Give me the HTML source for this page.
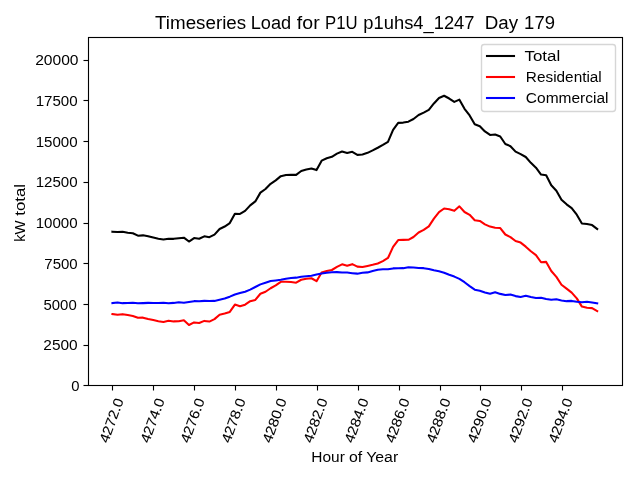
<!DOCTYPE html>
<html><head><meta charset="utf-8"><title>Timeseries Load for P1U p1uhs4_1247 Day 179</title>
<style>html,body{margin:0;padding:0;background:#fff;width:640px;height:480px;overflow:hidden}svg{display:block;will-change:transform;font-family:"Liberation Sans",sans-serif;fill:#000}.t{font-size:13.889px}.h{font-size:18.000px}.ln{fill:none;stroke-width:2.083;stroke-linejoin:round;stroke-linecap:square}.ax{stroke:#000;stroke-width:1.11;fill:none}</style></head><body>
<svg width="640" height="480" viewBox="0 0 640 480">
<rect x="0" y="0" width="640" height="480" fill="#fff"/>
<defs><clipPath id="c"><rect x="88.15" y="37.33" width="534.10" height="348.14"/></clipPath></defs>
<g clip-path="url(#c)">
<polyline class="ln" stroke="#000" points="112.43,231.67 117.53,231.92 122.63,231.84 127.74,232.67 132.84,233.26 137.94,235.67 143.04,235.34 148.15,236.34 153.25,237.51 158.35,238.76 163.46,239.42 168.56,238.67 173.66,238.84 178.76,238.17 183.87,237.67 188.97,241.51 194.07,238.09 199.18,238.76 204.28,236.34 209.38,237.17 214.48,234.59 219.59,229.01 224.69,226.51 229.79,223.09 234.90,213.67 240.00,213.92 245.10,210.84 250.20,205.37 255.31,201.41 260.41,192.62 265.51,189.01 270.61,183.76 275.72,180.34 280.82,176.17 285.92,175.01 291.03,174.67 296.13,174.84 301.23,171.01 306.33,169.51 311.44,168.51 316.54,170.09 321.64,160.67 326.75,158.26 331.85,156.76 336.95,153.59 342.05,151.42 347.16,152.92 352.26,151.84 357.36,154.84 362.47,154.42 367.57,152.84 372.67,150.42 377.77,147.76 382.88,144.89 387.98,141.82 393.08,129.84 398.19,122.86 403.29,122.59 408.39,121.67 413.49,119.01 418.60,115.01 423.70,112.59 428.80,109.84 433.91,103.42 439.01,97.92 444.11,95.76 449.21,98.51 454.32,101.92 459.42,99.67 464.52,108.76 469.63,115.42 474.73,124.34 479.83,126.26 484.93,131.42 490.04,134.92 495.14,134.52 500.24,136.46 505.34,144.01 510.45,146.17 515.55,151.64 520.65,154.11 525.76,157.02 530.86,162.86 535.96,167.71 541.06,174.51 546.17,175.34 551.27,185.26 556.37,190.67 561.48,199.76 566.58,204.34 571.68,208.09 576.78,214.67 581.89,223.42 586.99,224.01 592.09,225.09 597.20,228.92"/>
<polyline class="ln" stroke="#f00" points="112.43,314.08 117.53,314.83 122.63,314.16 127.74,315.08 132.84,315.99 137.94,317.83 143.04,317.66 148.15,318.91 153.25,319.99 158.35,321.24 163.46,322.08 168.56,320.83 173.66,321.41 178.76,321.33 183.87,320.33 188.97,324.99 194.07,322.41 199.18,322.99 204.28,320.91 209.38,321.58 214.48,319.16 219.59,314.74 224.69,313.49 229.79,311.91 234.90,304.58 240.00,306.33 245.10,304.66 250.20,301.23 255.31,299.89 260.41,293.73 265.51,291.74 270.61,288.24 275.72,285.41 280.82,281.83 285.92,281.74 291.03,282.08 296.13,282.66 301.23,279.74 306.33,278.74 311.44,278.24 316.54,281.16 321.64,272.58 326.75,270.99 331.85,269.99 336.95,266.91 342.05,264.33 347.16,265.83 352.26,264.16 357.36,266.66 362.47,267.08 367.57,265.91 372.67,264.83 377.77,263.49 382.88,261.11 387.98,257.98 393.08,246.91 398.19,240.04 403.29,239.91 408.39,239.83 413.49,236.99 418.60,232.49 423.70,229.91 428.80,226.41 433.91,218.58 439.01,212.08 444.11,208.49 449.21,209.24 454.32,210.83 459.42,206.33 464.52,211.99 469.63,214.83 474.73,220.16 479.83,220.99 484.93,224.33 490.04,226.58 495.14,227.68 500.24,228.04 505.34,234.49 510.45,237.08 515.55,241.01 520.65,242.59 525.76,246.68 530.86,251.29 535.96,255.14 541.06,262.24 546.17,261.91 551.27,270.99 556.37,276.83 561.48,284.74 566.58,288.66 571.68,292.66 576.78,298.33 581.89,306.58 586.99,307.74 592.09,308.16 597.20,311.08"/>
<polyline class="ln" stroke="#00f" points="112.43,303.08 117.53,302.58 122.63,303.16 127.74,303.08 132.84,302.74 137.94,303.33 143.04,303.16 148.15,302.91 153.25,302.99 158.35,302.99 163.46,302.83 168.56,303.33 173.66,302.91 178.76,302.33 183.87,302.83 188.97,301.99 194.07,301.16 199.18,301.24 204.28,300.91 209.38,301.08 214.48,300.91 219.59,299.74 224.69,298.49 229.79,296.66 234.90,294.58 240.00,293.08 245.10,291.66 250.20,289.63 255.31,286.99 260.41,284.38 265.51,282.74 270.61,280.99 275.72,280.41 280.82,279.83 285.92,278.74 291.03,278.08 296.13,277.66 301.23,276.74 306.33,276.24 311.44,275.74 316.54,274.41 321.64,273.58 326.75,272.74 331.85,272.24 336.95,272.16 342.05,272.58 347.16,272.58 352.26,273.16 357.36,273.66 362.47,272.83 367.57,272.41 372.67,271.08 377.77,269.74 382.88,269.26 387.98,269.33 393.08,268.41 398.19,268.29 403.29,268.16 408.39,267.33 413.49,267.49 418.60,267.99 423.70,268.16 428.80,268.91 433.91,270.33 439.01,271.33 444.11,272.74 449.21,274.74 454.32,276.58 459.42,278.83 464.52,282.24 469.63,286.08 474.73,289.66 479.83,290.74 484.93,292.58 490.04,293.83 495.14,292.33 500.24,293.89 505.34,294.99 510.45,294.58 515.55,296.11 520.65,296.99 525.76,295.83 530.86,297.04 535.96,298.04 541.06,297.74 546.17,298.91 551.27,299.74 556.37,299.33 561.48,300.49 566.58,301.16 571.68,300.91 576.78,301.83 581.89,302.33 586.99,301.74 592.09,302.41 597.20,303.33"/>
</g>
<g fill="#000">
<rect x="111.945" y="385.5" width="1.11" height="5"/>
<rect x="152.945" y="385.5" width="1.11" height="5"/>
<rect x="193.945" y="385.5" width="1.11" height="5"/>
<rect x="234.945" y="385.5" width="1.11" height="5"/>
<rect x="275.945" y="385.5" width="1.11" height="5"/>
<rect x="316.945" y="385.5" width="1.11" height="5"/>
<rect x="357.945" y="385.5" width="1.11" height="5"/>
<rect x="398.945" y="385.5" width="1.11" height="5"/>
<rect x="439.945" y="385.5" width="1.11" height="5"/>
<rect x="479.945" y="385.5" width="1.11" height="5"/>
<rect x="520.945" y="385.5" width="1.11" height="5"/>
<rect x="561.945" y="385.5" width="1.11" height="5"/>
<rect x="83.5" y="384.945" width="5" height="1.11"/>
<rect x="83.5" y="344.945" width="5" height="1.11"/>
<rect x="83.5" y="303.945" width="5" height="1.11"/>
<rect x="83.5" y="262.945" width="5" height="1.11"/>
<rect x="83.5" y="222.945" width="5" height="1.11"/>
<rect x="83.5" y="181.945" width="5" height="1.11"/>
<rect x="83.5" y="140.945" width="5" height="1.11"/>
<rect x="83.5" y="99.945" width="5" height="1.11"/>
<rect x="83.5" y="59.945" width="5" height="1.11"/>
</g>
<rect class="ax" x="88.5" y="37.5" width="534" height="348"/>
<rect x="481.50" y="44.50" width="134.00" height="67.00" rx="2.78" ry="2.78" fill="#fff" fill-opacity="0.8" stroke="#ccc" stroke-opacity="0.8" stroke-width="1.39"/>
<path d="M487.00 56.00H514.00" stroke="#000" stroke-width="2.083" stroke-linecap="square" fill="none"/>
<path d="M487.00 77.00H514.00" stroke="#f00" stroke-width="2.083" stroke-linecap="square" fill="none"/>
<path d="M487.00 98.00H514.00" stroke="#00f" stroke-width="2.083" stroke-linecap="square" fill="none"/>
<g>
<text class="h" x="155.11" y="29.00" textLength="91.00" lengthAdjust="spacingAndGlyphs">Timeseries</text>
<text class="h" x="250.66" y="29.00" textLength="40.47" lengthAdjust="spacingAndGlyphs">Load</text>
<text class="h" x="296.85" y="29.00" textLength="22.85" lengthAdjust="spacingAndGlyphs">for</text>
<text class="h" x="325.04" y="29.00" textLength="32.57" lengthAdjust="spacingAndGlyphs">P1U</text>
<text class="h" x="363.39" y="29.00" textLength="111.10" lengthAdjust="spacingAndGlyphs">p1uhs4_1247</text>
<text class="h" x="484.71" y="29.00" textLength="33.32" lengthAdjust="spacingAndGlyphs">Day</text>
<text class="h" x="524.12" y="29.00" textLength="30.84" lengthAdjust="spacingAndGlyphs">179</text>
</g>
<g>
<text class="t" x="311.33" y="462.00" textLength="33.48" lengthAdjust="spacingAndGlyphs">Hour</text>
<text class="t" x="348.97" y="462.00" textLength="13.23" lengthAdjust="spacingAndGlyphs">of</text>
<text class="t" x="366.15" y="462.00" textLength="32.07" lengthAdjust="spacingAndGlyphs">Year</text>
</g>
<g transform="translate(25.00 211.40) rotate(-90)">
<text class="t" x="-30.46" y="0.00" textLength="21.38" lengthAdjust="spacingAndGlyphs">kW</text>
<text class="t" x="-4.27" y="0.00" textLength="31.72" lengthAdjust="spacingAndGlyphs">total</text>
</g>
<text class="t" x="71.17" y="391.00" textLength="8.25" lengthAdjust="spacingAndGlyphs">0</text>
<text class="t" x="43.34" y="350.00" textLength="34.38" lengthAdjust="spacingAndGlyphs">2500</text>
<text class="t" x="43.49" y="310.00" textLength="33.24" lengthAdjust="spacingAndGlyphs">5000</text>
<text class="t" x="44.39" y="269.00" textLength="33.34" lengthAdjust="spacingAndGlyphs">7500</text>
<text class="t" x="35.69" y="228.00" textLength="41.97" lengthAdjust="spacingAndGlyphs">10000</text>
<text class="t" x="35.69" y="187.00" textLength="41.97" lengthAdjust="spacingAndGlyphs">12500</text>
<text class="t" x="35.69" y="147.00" textLength="41.97" lengthAdjust="spacingAndGlyphs">15000</text>
<text class="t" x="35.69" y="106.00" textLength="41.97" lengthAdjust="spacingAndGlyphs">17500</text>
<text class="t" x="35.18" y="65.00" textLength="43.39" lengthAdjust="spacingAndGlyphs">20000</text>
<text class="t" x="524.53" y="61.00" textLength="35.72" lengthAdjust="spacingAndGlyphs">Total</text>
<text class="t" x="525.89" y="81.94" textLength="75.91" lengthAdjust="spacingAndGlyphs">Residential</text>
<text class="t" x="525.82" y="102.89" textLength="82.71" lengthAdjust="spacingAndGlyphs">Commercial</text>
<text class="t" transform="translate(112.43 420.20) rotate(-70)" stroke="#000" stroke-width="0.08" x="-23.78" y="3.84" textLength="46.39" lengthAdjust="spacingAndGlyphs">4272.0</text>
<text class="t" transform="translate(153.43 420.20) rotate(-70)" stroke="#000" stroke-width="0.08" x="-23.78" y="3.84" textLength="46.39" lengthAdjust="spacingAndGlyphs">4274.0</text>
<text class="t" transform="translate(193.43 420.20) rotate(-70)" stroke="#000" stroke-width="0.08" x="-23.78" y="3.84" textLength="46.39" lengthAdjust="spacingAndGlyphs">4276.0</text>
<text class="t" transform="translate(234.43 420.20) rotate(-70)" stroke="#000" stroke-width="0.08" x="-23.78" y="3.84" textLength="46.39" lengthAdjust="spacingAndGlyphs">4278.0</text>
<text class="t" transform="translate(275.43 420.20) rotate(-70)" stroke="#000" stroke-width="0.08" x="-23.78" y="3.84" textLength="46.39" lengthAdjust="spacingAndGlyphs">4280.0</text>
<text class="t" transform="translate(316.43 420.20) rotate(-70)" stroke="#000" stroke-width="0.08" x="-23.78" y="3.84" textLength="46.39" lengthAdjust="spacingAndGlyphs">4282.0</text>
<text class="t" transform="translate(357.43 420.20) rotate(-70)" stroke="#000" stroke-width="0.08" x="-23.78" y="3.84" textLength="46.39" lengthAdjust="spacingAndGlyphs">4284.0</text>
<text class="t" transform="translate(398.43 420.20) rotate(-70)" stroke="#000" stroke-width="0.08" x="-23.78" y="3.84" textLength="46.39" lengthAdjust="spacingAndGlyphs">4286.0</text>
<text class="t" transform="translate(439.43 420.20) rotate(-70)" stroke="#000" stroke-width="0.08" x="-23.78" y="3.84" textLength="46.39" lengthAdjust="spacingAndGlyphs">4288.0</text>
<text class="t" transform="translate(480.43 420.20) rotate(-70)" stroke="#000" stroke-width="0.08" x="-23.78" y="3.84" textLength="46.39" lengthAdjust="spacingAndGlyphs">4290.0</text>
<text class="t" transform="translate(521.43 420.20) rotate(-70)" stroke="#000" stroke-width="0.08" x="-23.78" y="3.84" textLength="46.39" lengthAdjust="spacingAndGlyphs">4292.0</text>
<text class="t" transform="translate(561.43 420.20) rotate(-70)" stroke="#000" stroke-width="0.08" x="-23.78" y="3.84" textLength="46.39" lengthAdjust="spacingAndGlyphs">4294.0</text>
</svg></body></html>
